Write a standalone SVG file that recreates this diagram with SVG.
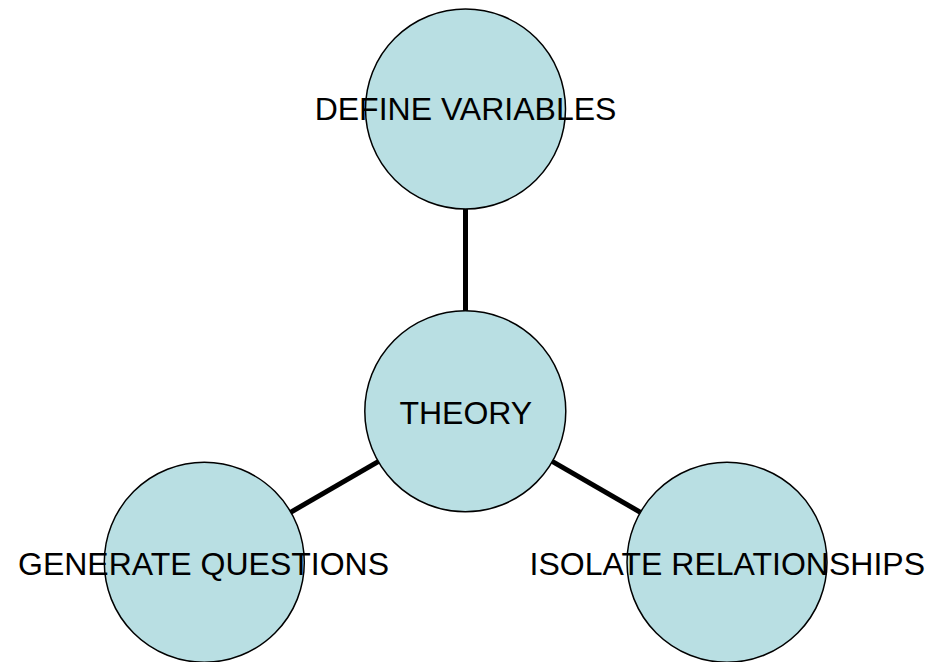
<svg xmlns="http://www.w3.org/2000/svg" width="940" height="662" viewBox="0 0 940 662">
  <style>
    .node circle { fill: #B9DFE3; stroke: #000000; stroke-width: 1.5; }
    .node text { font-family: "Liberation Sans", Arial, sans-serif; font-size: 32px; fill: #000000; text-anchor: middle; }
    #connectors line { stroke: #000000; stroke-width: 5; }
  </style>
  <rect width="940" height="662" fill="#FFFFFF"/>
  <g id="connectors">
    <line x1="465.5" y1="209" x2="465.5" y2="311"/>
    <line x1="378.6" y1="461.3" x2="290.6" y2="512.3"/>
    <line x1="552.2" y1="461.3" x2="640.4" y2="512.3"/>
  </g>
  <g id="node-define" class="node">
    <circle cx="465.5" cy="109" r="100"/>
    <text x="465.5" y="120">DEFINE VARIABLES</text>
  </g>
  <g id="node-theory" class="node">
    <circle cx="465.3" cy="411.3" r="100.5"/>
    <text x="465.8" y="424">THEORY</text>
  </g>
  <g id="node-generate" class="node">
    <circle cx="204.3" cy="562.3" r="100"/>
    <text x="203.5" y="575">GENERATE QUESTIONS</text>
  </g>
  <g id="node-isolate" class="node">
    <circle cx="727" cy="562.3" r="100"/>
    <text x="727.3" y="575">ISOLATE RELATIONSHIPS</text>
  </g>
</svg>
